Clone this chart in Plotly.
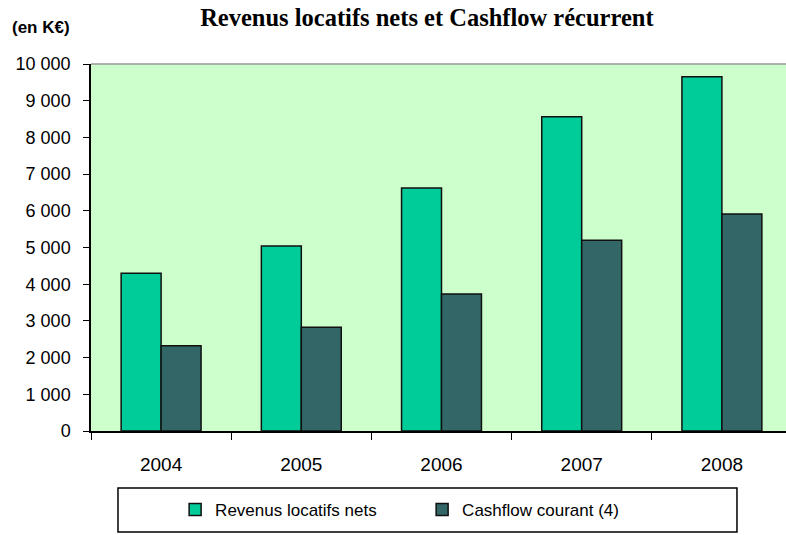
import plotly.graph_objects as go

years = ["2004", "2005", "2006", "2007", "2008"]
revenus = [4300, 5040, 6620, 8560, 9650]
cashflow = [2320, 2830, 3730, 5200, 5910]
y_ticks = [0, 1000, 2000, 3000, 4000, 5000, 6000, 7000, 8000, 9000, 10000]

fig = go.Figure()
fig.add_trace(go.Bar(x=years, y=revenus, name="Revenus locatifs nets",
                     marker=dict(color="#00CC99", line=dict(color="#111111", width=1.5))))
fig.add_trace(go.Bar(x=years, y=cashflow, name="Cashflow courant (4)",
                     marker=dict(color="#336666", line=dict(color="#111111", width=1.5))))

fig.update_layout(
    width=792, height=535,
    margin=dict(l=91, r=0, t=64, b=104, autoexpand=False),
    paper_bgcolor="white", plot_bgcolor="#CCFFCC",
    barmode="group", bargap=0.43, bargroupgap=0,
    separators=", ",
    font=dict(family="Arial, Liberation Sans", size=16, color="black"),
    title=dict(text="<b>Revenus locatifs nets et Cashflow récurrent</b>",
               font=dict(family="Times New Roman, Liberation Serif", size=24.5, color="black"),
               x=0.539, xanchor="center", y=0.968, yanchor="middle"),
    legend=dict(orientation="h", x=0.12, xanchor="left", y=-0.215, yanchor="middle",
                borderwidth=0, bgcolor="rgba(0,0,0,0)",
                font=dict(family="Arial, Liberation Sans", size=17),
                entrywidth=202, itemwidth=30),
    showlegend=True,
)
fig.update_xaxes(type="category", showline=True, linecolor="black", linewidth=1.5,
                 ticks="outside", tickson="boundaries", ticklen=7, tickcolor="black",
                 tickfont=dict(size=19), showgrid=False, automargin=False,
                 ticklabelstandoff=15)
fig.update_yaxes(range=[0, 10000], tickvals=y_ticks, tickformat=",d",
                 showline=True, linecolor="black", linewidth=1.5,
                 ticks="outside", ticklen=6, tickcolor="black",
                 tickfont=dict(size=18), showgrid=False, zeroline=False, automargin=False,
                 ticklabelstandoff=9)

fig.add_shape(type="line", xref="paper", yref="paper", x0=0, x1=1, y0=1, y1=1,
              line=dict(color="#999999", width=1.5))
fig.add_shape(type="rect", xref="paper", yref="paper", x0=0.0385, x1=0.9215,
              y0=-0.1553, y1=-0.2752, line=dict(color="black", width=1.5),
              fillcolor="rgba(0,0,0,0)")
fig.add_annotation(text="<b>(en K€)</b>", xref="paper", yref="paper",
                   x=-0.1155, y=1.1008, xanchor="left", yanchor="middle", showarrow=False,
                   font=dict(family="Arial, Liberation Sans", size=17, color="black"))

fig.write_html("out.html", config={"displayModeBar": False},
               post_script="document.body.style.margin='0px';document.body.style.overflow='hidden';")
